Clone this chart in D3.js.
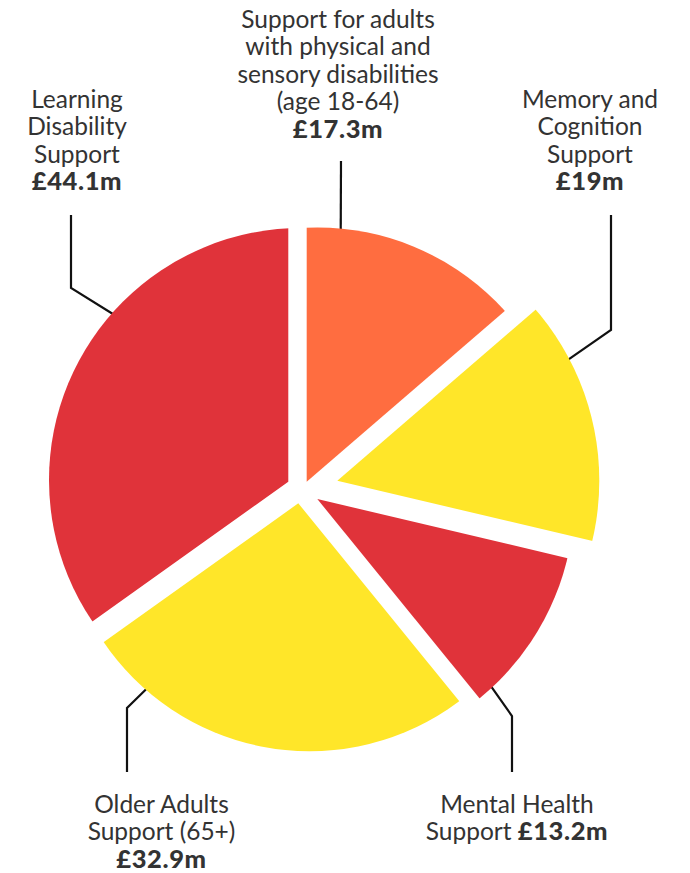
<!DOCTYPE html>
<html>
<head>
<meta charset="utf-8">
<script src="https://cdn.jsdelivr.net/npm/d3@7"></script>
<style>
  html, body { margin: 0; padding: 0; background: #fff; }
  svg { display: block; }
  text { font-family: Lato, "Noto Sans", sans-serif; fill: #333; }
  .value { font-weight: 900; font-size: 25.5px; letter-spacing: 0.6px; }
</style>
</head>
<body>
<script>
// Adult social care spend by service area, clockwise from 12 o'clock
const categories = [
  "Support for adults with physical and sensory disabilities (age 18-64)",
  "Memory and Cognition Support",
  "Mental Health Support",
  "Older Adults Support (65+)",
  "Learning Disability Support"
];
const spendMillions = [17.3, 19, 13.2, 32.9, 44.1];
const valueLabels = ["£17.3m", "£19m", "£13.2m", "£32.9m", "£44.1m"];
const labelLines = [
  ["Support for adults", "with physical and", "sensory disabilities", "(age 18-64)"],
  ["Memory and", "Cognition", "Support"],
  ["Mental Health", "Support"],
  ["Older Adults", "Support (65+)"],
  ["Learning", "Disability", "Support"]
];

// Drawing layout for each wedge: apex, clipping circle, colour, label and leader placement
const sliceLayout = [
  { apex: [306.7, 481.7], centre: [317.5, 479.5], r: 252, color: "#ff6d40",
    label: { x: 338, y: 28, inline: false }, leader: { start: [341, 161], elbow: null, angle: 5.35 } },
  { apex: [337.3, 480.7], centre: [337.3, 480.7], r: 262, color: "#ffe629",
    label: { x: 590, y: 108, inline: false }, leader: { start: [611, 215], elbow: [611, 330], angle: 62.4 } },
  { apex: [317.3, 499], centre: [317.3, 499], r: 257, color: "#e0333a",
    label: { x: 517, y: 813, inline: true }, leader: { start: [512, 772], elbow: [512, 716], angle: 137.1 } },
  { apex: [298.3, 503.3], centre: [309.6, 502.2], r: 249, color: "#ffe629",
    label: { x: 161.5, y: 813, inline: false }, leader: { start: [127, 772], elbow: [127, 708], angle: 221.1 } },
  { apex: [288.3, 481.7], centre: [301, 480], r: 252, color: "#e0333a",
    label: { x: 77, y: 108, inline: false }, leader: { start: [71, 215], elbow: [71, 288], angle: 311.5 } }
];

const W = 690, H = 873, lineGap = 27.4, fontSize = 24.5;

const svg = d3.select("body").append("svg")
  .attr("width", W).attr("height", H).attr("viewBox", `0 0 ${W} ${H}`);

const pie = d3.pie().sort(null).value(d => d).startAngle(0).endAngle(2 * Math.PI);
const arcs = pie(spendMillions);

const wedge = d3.arc().innerRadius(0).outerRadius(420);

// point on a wedge's rim at a compass angle (degrees, clockwise from north)
function rimPoint(layout, deg, inset) {
  const a = deg * Math.PI / 180, rr = layout.r - inset;
  return [layout.centre[0] + rr * Math.sin(a), layout.centre[1] - rr * Math.cos(a)];
}

// leader lines sit beneath the wedges
const leaders = svg.append("g").attr("class", "leaders");
arcs.forEach((d, i) => {
  const L = sliceLayout[i];
  const end = rimPoint(L, L.leader.angle, 3);
  const pts = [L.leader.start];
  if (L.leader.elbow) pts.push(L.leader.elbow);
  pts.push(end);
  leaders.append("path")
    .attr("d", d3.line()(pts))
    .attr("fill", "none")
    .attr("stroke", "#111")
    .attr("stroke-width", 2.2)
    .attr("stroke-linejoin", "miter");
});

const defs = svg.append("defs");
const slices = svg.append("g").attr("class", "slices");
arcs.forEach((d, i) => {
  const L = sliceLayout[i];
  defs.append("clipPath").attr("id", `rim-${i}`)
    .append("circle")
    .attr("cx", L.centre[0]).attr("cy", L.centre[1]).attr("r", L.r);
  slices.append("g")
    .attr("clip-path", `url(#rim-${i})`)
    .append("path")
    .attr("transform", `translate(${L.apex[0]},${L.apex[1]})`)
    .attr("d", wedge(d))
    .attr("fill", L.color);
});

// category labels with the spend figure in bold
const labels = svg.append("g").attr("class", "labels")
  .attr("font-size", fontSize).attr("text-anchor", "middle");
arcs.forEach((d, i) => {
  const L = sliceLayout[i];
  const lines = labelLines[i];
  lines.forEach((ln, j) => {
    const t = labels.append("text")
      .attr("x", L.label.x)
      .attr("y", L.label.y + j * lineGap);
    if (L.label.inline && j === lines.length - 1) {
      t.append("tspan").text(ln + " ");
      t.append("tspan").attr("class", "value").text(valueLabels[i]);
    } else {
      t.text(ln);
    }
  });
  if (!L.label.inline) {
    labels.append("text")
      .attr("class", "value")
      .attr("x", L.label.x)
      .attr("y", L.label.y + lines.length * lineGap)
      .text(valueLabels[i]);
  }
});
</script>
</body>
</html>
